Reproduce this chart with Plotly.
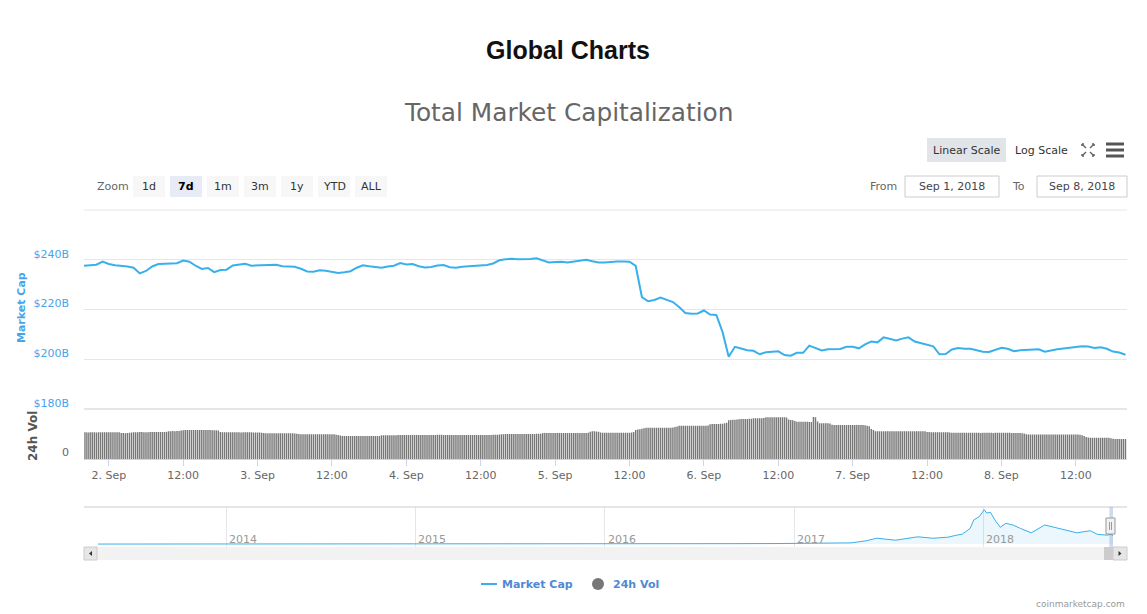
import pandas as pd
import plotly.graph_objects as go

W, H = 1147, 614

# ---------------- data ----------------
cap_start = "2018-09-01 20:00"          # hourly samples
market_cap_b = [
    237.6, 237.8, 238.0, 239.3, 238.3, 237.8, 237.6, 237.3, 236.8, 234.5,
    235.5, 237.3, 238.3, 238.3, 238.6, 238.6, 239.7, 239.2, 237.6, 236.3,
    236.7, 235.0, 235.9, 236.0, 237.7, 238.0, 238.4, 237.6, 237.7, 237.5,
    237.6, 238.0, 237.4, 237.2, 237.2, 236.4, 235.3, 235.2, 235.8, 235.6,
    235.2, 234.7, 235.0, 235.4, 236.8, 237.8, 237.4, 237.0, 236.8, 237.3,
    237.6, 238.7, 238.1, 238.3, 237.4, 236.9, 237.1, 237.7, 237.9, 237.0,
    236.8, 237.2, 237.4, 237.5, 237.6, 237.9, 238.5, 239.8, 240.2, 240.4,
    240.2, 240.1, 240.3, 240.6, 239.8, 238.9, 239.1, 239.2, 238.9, 239.3,
    239.6, 240.0, 239.4, 238.9, 238.9, 239.2, 239.3, 239.3, 239.2, 237.5,
    225.0, 223.3, 223.8, 224.8, 224.0, 223.0, 221.0, 218.6, 218.3, 218.4,
    219.6, 218.0, 217.8, 211.0, 201.0, 205.0, 204.3, 203.6, 203.4, 202.0,
    202.8, 202.9, 203.2, 201.7, 201.4, 202.6, 202.6, 205.5, 204.6, 203.5,
    204.0, 204.1, 204.1, 205.0, 205.0, 204.4, 206.0, 207.1, 206.8, 208.8,
    208.3, 207.6, 208.3, 208.8, 207.1, 206.4, 205.6, 205.2, 202.0, 202.1,
    203.9, 204.5, 204.2, 204.2, 203.6, 203.0, 202.9, 203.6, 204.6, 204.2,
    203.2, 203.6, 203.8, 203.9, 204.0, 203.0, 203.6, 204.0, 204.3, 204.6,
    204.9, 205.2, 205.1, 204.5, 204.8, 204.2, 203.1, 202.7, 201.8,
]

vol_start = "2018-09-01 20:00"          # 20-minute samples
volume_b = [
    10.7, 10.7, 10.6, 10.7, 10.7, 10.7, 10.6, 10.7, 10.7, 10.7, 10.7, 10.7,
    10.7, 10.7, 10.7, 10.7, 10.7, 10.7, 10.4, 10.4, 10.3, 10.4, 10.5, 10.6,
    10.7, 10.7, 10.7, 10.8, 10.8, 10.7, 10.7, 10.7, 10.8, 10.8, 10.8, 10.8,
    10.8, 10.8, 10.8, 10.8, 10.9, 11.1, 11.1, 11.2, 11.1, 11.2, 11.2, 11.4,
    11.5, 11.6, 11.6, 11.6, 11.6, 11.6, 11.6, 11.6, 11.6, 11.6, 11.6, 11.6,
    11.6, 11.6, 11.5, 11.5, 11.5, 11.4, 10.8, 10.7, 10.7, 10.7, 10.7, 10.7,
    10.7, 10.7, 10.7, 10.7, 10.6, 10.7, 10.7, 10.7, 10.7, 10.7, 10.6, 10.6,
    10.6, 10.6, 10.5, 10.4, 10.3, 10.3, 10.3, 10.3, 10.3, 10.3, 10.3, 10.3,
    10.3, 10.3, 10.3, 10.3, 10.3, 10.3, 10.2, 10.1, 10.0, 9.9, 9.9, 9.9,
    9.9, 9.9, 9.9, 9.9, 9.9, 9.9, 9.9, 9.9, 9.9, 9.9, 9.9, 9.9,
    9.9, 9.9, 9.7, 9.6, 9.4, 9.2, 9.2, 9.2, 9.2, 9.2, 9.2, 9.2,
    9.2, 9.2, 9.2, 9.2, 9.2, 9.2, 9.2, 9.2, 9.2, 9.2, 9.2, 9.2,
    9.5, 9.5, 9.5, 9.5, 9.5, 9.5, 9.5, 9.5, 9.6, 9.6, 9.6, 9.6,
    9.6, 9.6, 9.6, 9.6, 9.6, 9.6, 9.6, 9.6, 9.6, 9.6, 9.6, 9.6,
    9.6, 9.6, 9.6, 9.7, 9.7, 9.7, 9.6, 9.6, 9.6, 9.6, 9.6, 9.6,
    9.6, 9.6, 9.6, 9.6, 9.6, 9.6, 9.6, 9.6, 9.6, 9.6, 9.6, 9.6,
    9.6, 9.6, 9.6, 9.6, 9.6, 9.6, 9.7, 9.7, 9.7, 9.8, 9.9, 9.9,
    10.0, 10.0, 10.0, 10.0, 10.0, 10.0, 10.0, 10.0, 10.0, 10.0, 10.0, 10.0,
    10.0, 10.0, 10.0, 10.1, 10.1, 10.1, 10.4, 10.4, 10.4, 10.4, 10.4, 10.4,
    10.4, 10.4, 10.4, 10.4, 10.4, 10.4, 10.4, 10.4, 10.4, 10.4, 10.4, 10.4,
    10.4, 10.4, 10.4, 10.4, 10.5, 10.9, 11.1, 11.1, 11.0, 10.9, 10.6, 10.5,
    10.5, 10.5, 10.5, 10.5, 10.5, 10.5, 10.5, 10.5, 10.5, 10.5, 10.5, 10.5,
    10.5, 10.6, 10.8, 11.6, 11.8, 11.9, 12.1, 12.3, 12.5, 12.5, 12.5, 12.5,
    12.5, 12.5, 12.5, 12.5, 12.5, 12.5, 12.5, 12.5, 12.5, 12.6, 12.8, 13.0,
    13.3, 13.3, 13.3, 13.3, 13.3, 13.3, 13.3, 13.3, 13.3, 13.3, 13.3, 13.3,
    13.3, 13.3, 13.4, 13.9, 14.0, 14.0, 14.0, 14.0, 14.1, 14.1, 14.3, 14.5,
    15.5, 15.6, 15.7, 15.7, 15.8, 15.9, 16.0, 16.0, 16.0, 16.0, 16.1, 16.1,
    16.3, 16.3, 16.3, 16.3, 16.3, 16.4, 16.7, 16.7, 16.7, 16.7, 16.7, 16.7,
    16.7, 16.7, 16.7, 16.7, 16.6, 15.8, 15.6, 15.5, 15.2, 14.9, 14.9, 14.9,
    14.9, 14.9, 14.9, 14.8, 14.8, 16.8, 16.7, 15.0, 14.3, 14.3, 14.3, 14.3,
    14.3, 14.2, 13.7, 13.6, 13.6, 13.6, 13.6, 13.6, 13.6, 13.6, 13.6, 13.6,
    13.6, 13.6, 13.6, 13.6, 13.6, 13.6, 13.5, 13.3, 13.1, 12.0, 11.6, 11.1,
    11.1, 11.1, 11.1, 11.1, 11.1, 11.1, 11.1, 11.1, 11.1, 11.1, 11.1, 11.1,
    11.1, 11.1, 11.1, 11.1, 11.1, 11.1, 11.1, 11.1, 11.1, 11.1, 11.1, 11.1,
    10.8, 10.8, 10.7, 10.7, 10.7, 10.7, 10.7, 10.7, 10.7, 10.7, 10.7, 10.6,
    10.5, 10.5, 10.5, 10.5, 10.5, 10.5, 10.5, 10.5, 10.5, 10.5, 10.5, 10.5,
    10.5, 10.5, 10.4, 10.5, 10.5, 10.5, 10.5, 10.5, 10.4, 10.5, 10.5, 10.5,
    10.5, 10.5, 10.5, 10.5, 10.5, 10.4, 10.4, 10.4, 10.4, 10.4, 10.3, 10.2,
    9.9, 9.8, 9.8, 9.8, 9.8, 9.8, 9.8, 9.8, 9.8, 9.8, 9.8, 9.8,
    9.8, 9.8, 9.8, 9.8, 9.8, 9.8, 9.8, 9.8, 9.8, 9.8, 9.8, 9.8,
    9.8, 9.8, 9.7, 9.5, 9.2, 8.8, 8.6, 8.5, 8.5, 8.5, 8.5, 8.5,
    8.5, 8.5, 8.5, 8.5, 8.5, 8.3, 8.1, 8.0, 8.0, 8.0, 8.0, 8.0,
    8.0,
]

nav_dates = [
    "2013-04-28", "2013-06-01", "2013-08-01", "2013-10-01", "2013-11-15", "2013-12-01",
    "2014-01-01", "2014-02-01", "2014-03-01", "2014-05-01", "2014-07-01", "2014-09-01",
    "2014-11-01", "2015-01-01", "2015-03-01", "2015-06-01", "2015-09-01", "2015-11-01",
    "2016-01-01", "2016-03-01", "2016-06-01", "2016-09-01", "2016-12-01", "2017-01-01",
    "2017-03-01", "2017-04-21", "2017-05-20", "2017-06-10", "2017-07-16", "2017-08-28",
    "2017-09-26", "2017-10-25", "2017-11-08", "2017-11-22", "2017-12-07", "2017-12-14",
    "2017-12-25", "2018-01-03", "2018-01-08", "2018-01-15", "2018-01-26", "2018-02-03",
    "2018-02-14", "2018-02-28", "2018-03-14", "2018-04-04", "2018-04-30", "2018-05-14",
    "2018-06-09", "2018-07-01", "2018-07-27", "2018-08-10", "2018-08-29", "2018-09-05",
    "2018-09-08 20:00",
]
nav_cap_b = [
    1.5, 1.3, 1.2, 1.6, 5.5, 14,
    10, 12, 8, 6.5, 9, 7.5,
    5.5, 4.7, 4.0, 3.8, 3.7, 5.0,
    7.0, 7.5, 11, 11, 14, 17,
    24, 30, 80, 143, 95, 177,
    143, 168, 209, 243, 381, 587,
    670, 835, 752, 773, 546, 408,
    505, 461, 381, 274, 464, 422,
    342, 274, 325, 235, 218, 235,
    205,
]

x_tick_vals = ["2018-09-02", "2018-09-02 12:00", "2018-09-03", "2018-09-03 12:00",
               "2018-09-04", "2018-09-04 12:00", "2018-09-05", "2018-09-05 12:00",
               "2018-09-06", "2018-09-06 12:00", "2018-09-07", "2018-09-07 12:00",
               "2018-09-08", "2018-09-08 12:00"]
x_tick_text = ["2. Sep", "12:00", "3. Sep", "12:00", "4. Sep", "12:00", "5. Sep", "12:00",
               "6. Sep", "12:00", "7. Sep", "12:00", "8. Sep", "12:00"]
cap_tick_vals = [180, 200, 220, 240, 260]
cap_tick_text = ["$180B", "$200B", "$220B", "$240B", ""]
year_ticks = ["2014-01-01", "2015-01-01", "2016-01-01", "2017-01-01", "2018-01-01"]
year_labels = ["2014", "2015", "2016", "2017", "2018"]
range_buttons = ["1d", "7d", "1m", "3m", "1y", "YTD", "ALL"]
selected_button = "7d"
from_label, to_label = "Sep 1, 2018", "Sep 8, 2018"
view_range = ["2018-09-01 20:00", "2018-09-08 20:15"]
nav_range = ["2013-04-28", "2018-09-08 20:00"]

# ---------------- helpers ----------------
def X(p):
    return p / W


def Y(p):
    return 1 - p / H


FONT = "DejaVu Sans"
CAP_COLOR = "#38b0ec"
VOL_COLOR = "#777777"

cap_times = pd.date_range(cap_start, periods=len(market_cap_b), freq="h")
vol_times = pd.date_range(vol_start, periods=len(volume_b), freq="20min")
nav_times = pd.to_datetime(nav_dates, format="ISO8601")

fig = go.Figure()
fig.add_trace(go.Scatter(x=cap_times, y=market_cap_b, mode="lines",
                         line=dict(color=CAP_COLOR, width=2), xaxis="x", yaxis="y",
                         showlegend=False, hoverinfo="skip"))
fig.add_trace(go.Bar(x=vol_times, y=volume_b, marker=dict(color=VOL_COLOR, line=dict(width=0)),
                     xaxis="x", yaxis="y2", showlegend=False, hoverinfo="skip"))
fig.add_trace(go.Scatter(x=nav_times, y=nav_cap_b, mode="lines",
                         line=dict(color=CAP_COLOR, width=1), fill="tozeroy",
                         fillcolor="rgba(56,176,236,0.10)", xaxis="x3", yaxis="y3",
                         showlegend=False, hoverinfo="skip"))

shapes = []
annotations = []


def rect(x0, y0, x1, y1, fill, line=None, lw=1, layer="above"):
    shapes.append(dict(type="rect", xref="paper", yref="paper", x0=X(x0), x1=X(x1),
                       y0=Y(y1), y1=Y(y0), fillcolor=fill,
                       line=dict(color=line or fill, width=lw if line else 0), layer=layer))


def hline(x0, x1, y, color, w=1, layer="below"):
    shapes.append(dict(type="line", xref="paper", yref="paper", x0=X(x0), x1=X(x1),
                       y0=Y(y), y1=Y(y), line=dict(color=color, width=w), layer=layer))


def text(x, y, s, size=11, color="#333333", anchor="center", bold=False, family=FONT, angle=0):
    annotations.append(dict(xref="paper", yref="paper", x=X(x), y=Y(y), text=s, showarrow=False,
                            xanchor=anchor, yanchor="middle", textangle=angle,
                            font=dict(family=family, size=size, color=color,
                                      weight="bold" if bold else "normal")))


# Titles
text(568, 50, "Global Charts", size=25, color="#111111", bold=True, family="Liberation Sans")
text(568, 113, "Total Market Capitalization", size=24.8, color="#666666")

# Linear / Log scale, icons
rect(927, 138, 1006, 162, "#e1e5ea")
text(966.5, 150, "Linear Scale", size=11, color="#333333")
text(1041, 150, "Log Scale", size=11, color="#333333")
for (ax, ay, bx, by) in [(1082, 144, 1086, 148), (1094, 144, 1090, 148),
                         (1082, 156, 1086, 152), (1094, 156, 1090, 152)]:
    shapes.append(dict(type="line", xref="paper", yref="paper", x0=X(ax), y0=Y(ay),
                       x1=X(bx), y1=Y(by), line=dict(color="#666666", width=1.5)))
    shapes.append(dict(type="line", xref="paper", yref="paper", x0=X(ax), y0=Y(ay),
                       x1=X(ax + (2 if bx > ax else -2)), y1=Y(ay), line=dict(color="#666666", width=1.5)))
    shapes.append(dict(type="line", xref="paper", yref="paper", x0=X(ax), y0=Y(ay),
                       x1=X(ax), y1=Y(ay + (2 if by > ay else -2)), line=dict(color="#666666", width=1.5)))
for yy in (144, 150, 156):
    rect(1106, yy - 1.5, 1124, yy + 1.5, "#555555")

# Range selector
text(95, 186, "Zoom", size=11, color="#666666", anchor="left")
bx = [133, 170, 207, 244, 281, 318, 355]
for b, x0 in zip(range_buttons, bx):
    sel = b == selected_button
    rect(x0, 176, x0 + 32, 197, "#e6ebf5" if sel else "#f7f7f7")
    text(x0 + 16, 186.5, b, size=11, color="#000000" if sel else "#333333", bold=sel)

# From / To
text(883, 186, "From", size=11, color="#666666")
rect(905, 176, 999, 197, "#ffffff", line="#cccccc")
text(952, 186.5, from_label, size=11, color="#444444")
text(1018, 186, "To", size=11, color="#666666")
rect(1037, 176, 1127, 197, "#ffffff", line="#cccccc")
text(1082, 186.5, to_label, size=11, color="#444444")

# grid top / separator
hline(84, 1127, 210, "#e6e6e6", 1)
hline(84, 1127, 409, "#e6e6e6", 2)

# axis titles
text(21, 308, "Market Cap", size=11, color="#47a4e8", bold=True, angle=-90)
text(33, 436, "24h Vol", size=12, color="#555555", bold=True, angle=-90)

# Navigator decorations
hline(84, 1127, 507, "#cccccc", 1, layer="above")
shapes.append(dict(type="rect", xref="x3", yref="paper", x0=view_range[0], x1=view_range[1],
                   y0=Y(547), y1=Y(507), fillcolor="rgba(102,133,194,0.3)", line=dict(width=0)))
for yl, lab in zip(year_ticks, year_labels):
    annotations.append(dict(xref="x3", yref="paper", x=yl, y=Y(539), text=lab, showarrow=False,
                            xanchor="left", yanchor="middle", xshift=1,
                            font=dict(family=FONT, size=11, color="#999999")))
# scrollbar
rect(84, 547, 1127, 560, "#f2f2f2")
rect(1104, 547, 1113, 560, "#cccccc")
rect(84, 547, 97, 560, "#e6e6e6", line="#cccccc")
rect(1113, 547, 1127, 560, "#e6e6e6", line="#cccccc")
shapes.append(dict(type="path", xref="paper", yref="paper",
                   path=f"M {X(92)} {Y(551)} L {X(89)} {Y(553.5)} L {X(92)} {Y(556)} Z",
                   fillcolor="#333333", line=dict(width=0)))
shapes.append(dict(type="path", xref="paper", yref="paper",
                   path=f"M {X(1118.5)} {Y(551)} L {X(1121.5)} {Y(553.5)} L {X(1118.5)} {Y(556)} Z",
                   fillcolor="#333333", line=dict(width=0)))
# handle
rect(1106, 518, 1115, 534, "#f2f2f2", line="#999999")
for xx in (1109.5, 1111.5):
    shapes.append(dict(type="line", xref="paper", yref="paper", x0=X(xx), x1=X(xx),
                       y0=Y(522), y1=Y(530), line=dict(color="#999999", width=1)))

# Legend
hline(481, 497, 584, CAP_COLOR, 2, layer="above")
text(500, 584, "Market Cap", size=11, color="#4f8ad2", bold=True, anchor="left")
shapes.append(dict(type="circle", xref="paper", yref="paper", x0=X(592), x1=X(604),
                   y0=Y(590), y1=Y(578), fillcolor=VOL_COLOR, line=dict(width=0)))
text(611, 584, "24h Vol", size=11, color="#4f8ad2", bold=True, anchor="left")

# credit
text(1127, 604, "coinmarketcap.com", size=9, color="#999999", anchor="right")

fig.update_layout(
    width=W, height=H,
    margin=dict(l=0, r=0, t=0, b=0),
    paper_bgcolor="white", plot_bgcolor="white",
    font=dict(family=FONT, size=11, color="#666666"),
    showlegend=False, bargap=0.3,
    shapes=shapes, annotations=annotations,
    xaxis=dict(domain=[X(84), X(1127)], anchor="y2", range=view_range, type="date",
               tickvals=x_tick_vals, ticktext=x_tick_text, ticks="outside", ticklen=6,
               tickcolor="#ccd6eb", showline=True, linecolor="#ccd6eb", linewidth=1,
               showgrid=False, zeroline=False, automargin=False, fixedrange=True,
               tickfont=dict(family=FONT, size=11, color="#666666")),
    yaxis=dict(domain=[Y(409), Y(210)], anchor="x", range=[180, 260],
               tickvals=cap_tick_vals, ticktext=cap_tick_text, showgrid=True,
               gridcolor="#e6e6e6", gridwidth=1, zeroline=False, showline=False,
               ticks="", ticklabelposition="outside", ticklabelstandoff=14,
               ticklabelshift=-6, automargin=False, fixedrange=True,
               tickfont=dict(family=FONT, size=11, color="#47a4e8")),
    yaxis2=dict(domain=[Y(459), Y(409)], anchor="x", range=[0, 20],
                tickvals=[0], ticktext=["0"], showgrid=False, zeroline=False, showline=False,
                ticks="", ticklabelposition="outside", ticklabelstandoff=14,
                ticklabelshift=-7, automargin=False, fixedrange=True,
                tickfont=dict(family=FONT, size=11, color="#666666")),
    xaxis3=dict(domain=[X(98), X(1113)], anchor="y3", range=nav_range, type="date",
                tickvals=year_ticks, showticklabels=False, showgrid=True,
                gridcolor="#e6e6e6", ticks="", showline=False, zeroline=False,
                automargin=False, fixedrange=True),
    yaxis3=dict(domain=[Y(547), Y(507)], anchor="x3", range=[-70, 900], showgrid=False,
                showticklabels=False, zeroline=False, showline=False, ticks="",
                automargin=False, fixedrange=True),
)

fig.write_html("out.html", config={"displayModeBar": False, "staticPlot": True})

# remove the browser's default 8px body margin so the figure fills the window exactly
with open("out.html", "r", encoding="utf-8") as fh:
    page = fh.read()
page = page.replace("<head>", "<head><style>html,body{margin:0;padding:0;overflow:hidden;}</style>", 1)
with open("out.html", "w", encoding="utf-8") as fh:
    fh.write(page)
